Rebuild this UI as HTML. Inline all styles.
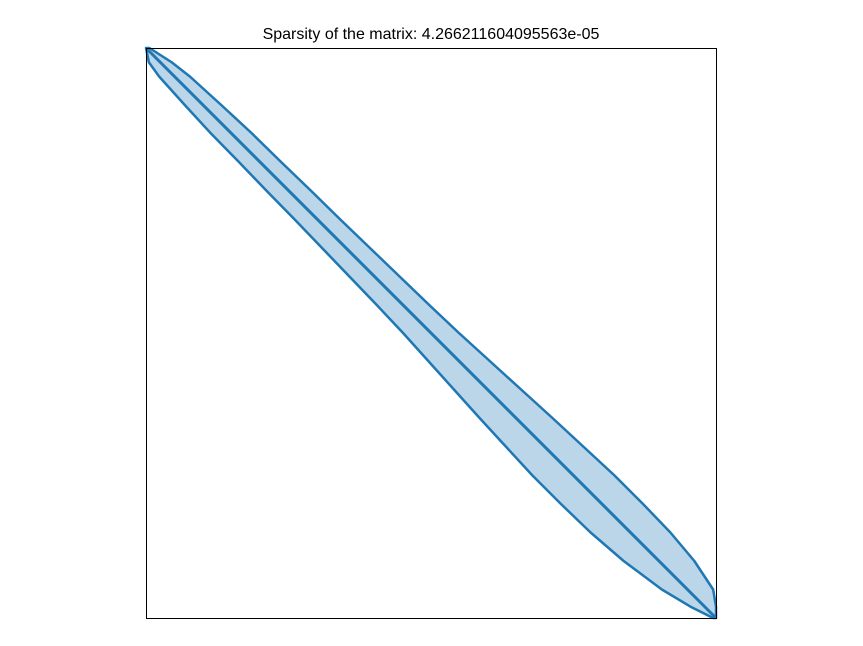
<!DOCTYPE html>
<html><head><meta charset="utf-8"><style>
body{margin:0;background:#fff;}
svg{display:block;font-family:"Liberation Sans",sans-serif;}
</style></head><body>
<svg id="chart" width="863" height="646">
<text x="431" y="39" text-anchor="middle" font-size="16">Sparsity of the matrix: 4.266211604095563e-05</text>
<g id="marks"></g>
<rect x="146.5" y="48.5" width="570" height="570" fill="none" stroke="#000" stroke-width="1"/>
</svg>
<script>
const n = 1000;
const rows = [0,25,50,100,150,200,250,300,350,400,450,500,550,600,650,700,750,800,850,900,950,980,1000];
const halfBand = [6,20,27,32,36,37,39,40,42,44,46,49,54,59,64,68,72,72,70,62,45,25,5];
const X0=146,Y0=48,S=570;
const sx = c => X0 + c/n*S;
const sy = r => Y0 + r/n*S;
const ns="http://www.w3.org/2000/svg";
const g=document.getElementById('marks');
let upper=[],lower=[];
for(let i=0;i<rows.length;i++){
  const r=rows[i],w=halfBand[i];
  upper.push([sx(Math.min(n,r+w)),sy(r)]);
  lower.push([sx(Math.max(0,r-w)),sy(r)]);
}
const pts=upper.concat(lower.slice().reverse()).map(p=>p.join(',')).join(' ');
const band=document.createElementNS(ns,'polygon');
band.setAttribute('points',pts);
band.setAttribute('fill','#1f77b4');
band.setAttribute('fill-opacity','0.3');
band.setAttribute('stroke','#1f77b4');
band.setAttribute('stroke-width','2.5');
band.setAttribute('stroke-linejoin','round');


g.appendChild(band);
const d=document.createElementNS(ns,'line');
d.setAttribute('x1',sx(0));d.setAttribute('y1',sy(0));
d.setAttribute('x2',sx(n));d.setAttribute('y2',sy(n));
d.setAttribute('stroke','#1f77b4');d.setAttribute('stroke-width','3');


g.appendChild(d);
</script>
</body></html>
